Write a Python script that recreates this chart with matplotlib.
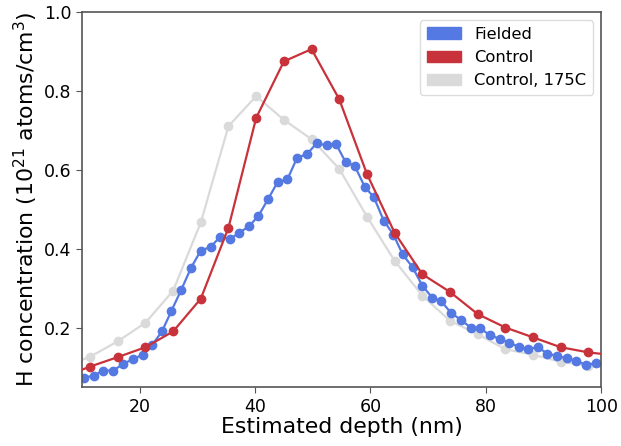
import numpy as np
import matplotlib
matplotlib.use('Agg')
import matplotlib.pyplot as plt
from matplotlib.patches import Patch

# Fielded sample (blue)
depth_fielded = [10.35, 12.0, 13.7, 15.4, 17.1, 18.8, 20.5, 22.2, 23.9, 25.5,
                 27.2, 28.9, 30.6, 32.3, 33.9, 35.6, 37.3, 39.0, 40.6, 42.3,
                 43.9, 45.6, 47.3, 49.0, 50.7, 52.4, 54.0, 55.7, 57.3, 59.0,
                 60.6, 62.3, 64.0, 65.6, 67.3, 69.0, 70.7, 72.3, 74.0, 75.7,
                 77.4, 79.0, 80.7, 82.4, 84.0, 85.7, 87.4, 89.0, 90.7, 92.4,
                 94.0, 95.7, 97.4, 99.1]
h_fielded = [0.074, 0.079, 0.092, 0.092, 0.108, 0.121, 0.132, 0.157, 0.192, 0.243,
             0.296, 0.352, 0.396, 0.405, 0.430, 0.425, 0.441, 0.458, 0.484, 0.527,
             0.569, 0.576, 0.631, 0.640, 0.668, 0.662, 0.667, 0.620, 0.610, 0.558,
             0.531, 0.472, 0.436, 0.386, 0.354, 0.307, 0.277, 0.267, 0.238, 0.220,
             0.201, 0.199, 0.182, 0.172, 0.163, 0.152, 0.147, 0.151, 0.135, 0.129,
             0.123, 0.117, 0.106, 0.111]

# Control and annealed control share the same depth grid
depth_control = [6.6, 11.4, 16.2, 21.0, 25.8, 30.6, 35.4, 40.2, 45.0, 49.8, 54.6,
                 59.4, 64.2, 69.0, 73.8, 78.6, 83.4, 88.2, 93.0, 97.8, 102.6]
h_control = [0.075, 0.102, 0.126, 0.151, 0.191, 0.274, 0.454, 0.732, 0.875, 0.906, 0.779,
             0.590, 0.441, 0.336, 0.291, 0.235, 0.201, 0.176, 0.151, 0.138, 0.130]
h_control_175 = [0.100, 0.127, 0.166, 0.213, 0.294, 0.467, 0.711, 0.787, 0.727, 0.678, 0.603,
                 0.482, 0.370, 0.282, 0.218, 0.184, 0.146, 0.132, 0.114, 0.104, 0.098]

c_blue = '#5479E3'
c_red = '#C8323A'
c_grey = '#DADADA'

fig = plt.figure(figsize=(6.21, 4.46), dpi=100)
ax = fig.add_axes([0.132, 0.132, 0.836, 0.841])

ax.plot(depth_control, h_control_175, '-o', color=c_grey, ms=6, lw=1.6, zorder=1)
ax.plot(depth_fielded, h_fielded, '-o', color=c_blue, ms=6, lw=1.6, zorder=2)
ax.plot(depth_control, h_control, '-o', color=c_red, ms=6, lw=1.6, zorder=3)

ax.set_xlim(10, 100)
ax.set_ylim(0.05, 1.0)
ax.set_xticks([20, 40, 60, 80, 100])
ax.set_yticks([0.2, 0.4, 0.6, 0.8, 1.0])
ax.tick_params(labelsize=12.5, color='#555555', length=4)
for s in ax.spines.values():
    s.set_color('#555555')
    s.set_linewidth(1.2)

ax.set_xlabel('Estimated depth (nm)', fontsize=15.8, labelpad=1)
ax.set_ylabel('H concentration (10$^{21}$ atoms/cm$^3$)', fontsize=15.8, labelpad=3)

handles = [Patch(color=c_blue, label='Fielded'),
           Patch(color=c_red, label='Control'),
           Patch(color=c_grey, label='Control, 175C')]
ax.legend(handles=handles, loc='upper right', fontsize=11.8, handlelength=2.1,
          handleheight=0.7, framealpha=1, edgecolor='#dddddd')

fig.savefig('out.png', dpi=100)
